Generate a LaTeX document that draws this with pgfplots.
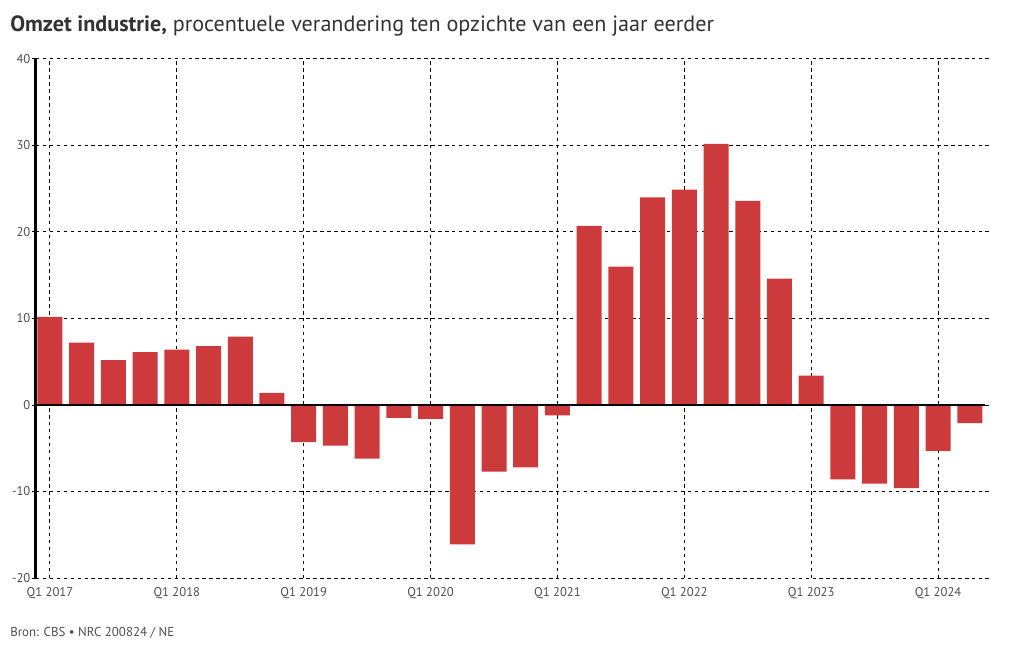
\documentclass[border=0pt]{standalone}
\usepackage{pgfplots}
\pgfplotsset{compat=1.18}
\usepackage{fontspec}
\setmainfont{PT Sans}
\definecolor{barred}{RGB}{204,58,60}
\definecolor{txtgray}{RGB}{80,80,80}
\begin{document}
\begin{tikzpicture}[x=0.75pt,y=0.75pt]
\path[use as bounding box] (0,0) rectangle (1020,650);
\node[anchor=base west,inner sep=0pt,font=\fontsize{16.6}{18}\selectfont,text=black!80] at (10,618) {\textbf{Omzet industrie,} procentuele verandering ten opzichte van een jaar eerder};
\node[anchor=base west,inner sep=0pt,font=\fontsize{9.7}{11}\selectfont,text=txtgray] at (10,14) {Bron: CBS • NRC 200824 / NE};
\begin{axis}[
  at={(27pt,54pt)}, anchor=south west,
  scale only axis, width=711.75pt, height=389.25pt,
  xmin=-0.44, xmax=29.48, ymin=-20, ymax=40,
  ytick={-20,-10,0,10,20,30,40},
  xtick={0,4,8,12,16,20,24,28},
  xticklabels={Q1 2017,Q1 2018,Q1 2019,Q1 2020,Q1 2021,Q1 2022,Q1 2023,Q1 2024},
  axis line style={draw=none},
  grid=major,
  major grid style={black, line width=0.75pt, dash pattern=on 2.6pt off 2.6pt},
  tick label style={font=\fontsize{9.5}{11}\selectfont, text=txtgray},
  x tick style={draw=none},
  y tick style={black, line width=0.75pt},
  tick align=outside,
  major tick length=3pt,
  yticklabel style={inner sep=1pt},
  xticklabel style={inner sep=1pt, yshift=-3pt},
  /pgf/number format/assume math mode=true,
  clip=false,
]
\addplot[ybar, bar width=0.788, fill=barred, draw=none] coordinates {
(0,10.2) (1,7.2) (2,5.2) (3,6.1) (4,6.4) (5,6.8) (6,7.9) (7,1.4)
(8,-4.3) (9,-4.7) (10,-6.2) (11,-1.5) (12,-1.6) (13,-16.1) (14,-7.7) (15,-7.2)
(16,-1.2) (17,20.7) (18,16.0) (19,24.0) (20,24.9) (21,30.2) (22,23.6) (23,14.6)
(24,3.4) (25,-8.6) (26,-9.1) (27,-9.6) (28,-5.3) (29,-2.1)
};
\draw[black, line width=2.25pt] (rel axis cs:0,0) -- (rel axis cs:0,1);
\draw[black, line width=1.5pt] (axis cs:-0.44,0) -- (axis cs:29.48,0);
\end{axis}
\end{tikzpicture}
\end{document}
